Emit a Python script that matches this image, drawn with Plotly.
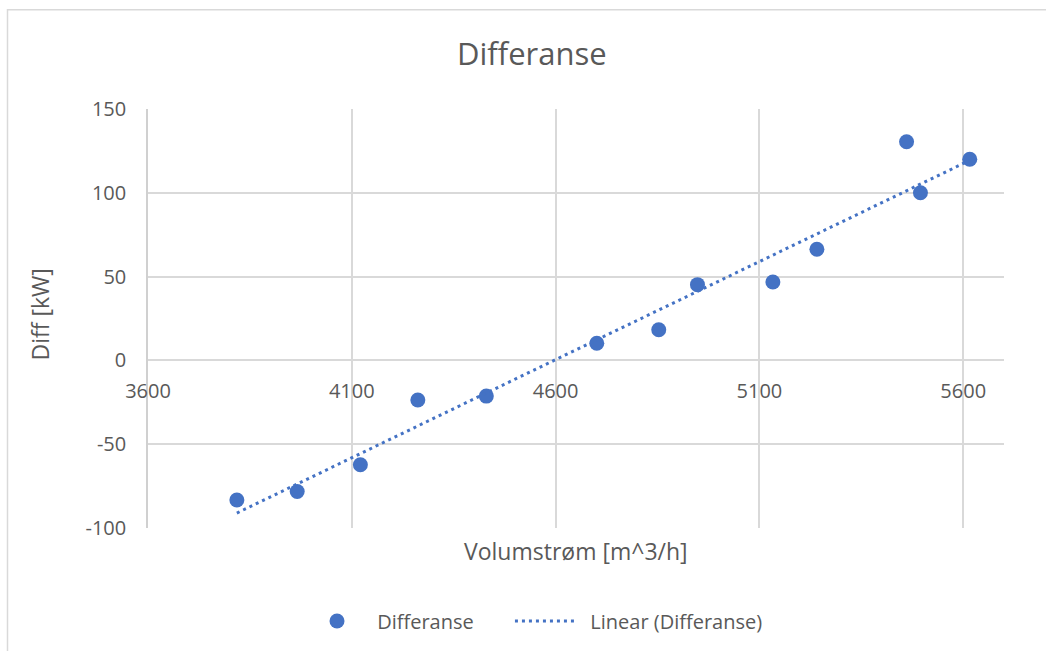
import numpy as np
import plotly.graph_objects as go

# Measured volume flow [m^3/h] and power difference [kW]
volumstrom = [3818, 3966, 4121, 4262, 4430, 4701, 4853, 4948, 5133, 5241, 5461, 5495, 5616]
differanse = [-83.3, -78.2, -62.3, -23.6, -21.3, 10.2, 18.3, 45.2, 46.8, 66.3, 130.5, 100.0, 120.0]

x_ticks = [3600, 4100, 4600, 5100, 5600]
y_ticks = [-100, -50, 0, 50, 100, 150]
y_tick_text = ["-100", "-50", "0", "50", "100", "150"]

BLUE = "#4472C4"
TEXT = "#595959"
GRID = "#D9D9D9"
FONT = "Open Sans"
NBSP = "\u00a0"

# Least-squares linear trend over the data range
slope, intercept = np.polyfit(volumstrom, differanse, 1)
trend_x = [min(volumstrom), max(volumstrom)]
trend_y = [slope * v + intercept for v in trend_x]

fig = go.Figure()
fig.add_trace(go.Scatter(
    x=volumstrom, y=differanse, mode="markers", name=NBSP + "Differanse" + NBSP * 6,
    marker=dict(color=BLUE, size=15, line=dict(width=0)),
))
fig.add_trace(go.Scatter(
    x=trend_x, y=trend_y, mode="lines", name=NBSP * 2 + "Linear (Differanse)",
    line=dict(color=BLUE, width=3, dash="3px,4px"),
))

W, H = 1046, 651
L, R, T, B = 148, 42, 109, 122
pw, ph = W - L - R, H - T - B


def px_x(p):
    return (p - L) / pw


def px_y(p):
    return (H - B - p) / ph


y_min, y_max = -100, 150

fig.update_layout(
    width=W, height=H,
    margin=dict(l=L, r=R, t=T, b=B),
    paper_bgcolor="white", plot_bgcolor="white",
    font=dict(family=FONT, color=TEXT, size=20),
    showlegend=True,
    legend=dict(
        orientation="h", x=px_x(302), xanchor="left", y=px_y(621), yanchor="middle",
        font=dict(size=20, color=TEXT), itemwidth=60,
    ),
    xaxis=dict(
        range=[3600, 5700], tickvals=x_ticks, ticktext=[str(v) for v in x_ticks],
        showgrid=True, gridcolor=GRID, gridwidth=1.5, zeroline=False,
        showline=False, anchor="free", position=(0 - y_min) / (y_max - y_min),
        ticks="", ticklabelstandoff=17, tickfont=dict(size=20, color=TEXT),
    ),
    yaxis=dict(
        range=[y_min, y_max], tickvals=y_ticks, ticktext=y_tick_text,
        showgrid=True, gridcolor=GRID, gridwidth=1.5, zeroline=False,
        showline=True, linecolor="#D0D0D0", linewidth=1.5,
        ticks="", ticklabelstandoff=16, tickfont=dict(size=20, color=TEXT),
    ),
    annotations=[
        dict(text="Differanse", xref="paper", yref="paper",
             x=px_x(532), y=px_y(53), xanchor="center", yanchor="middle",
             showarrow=False, font=dict(size=31, color=TEXT, family=FONT)),
        dict(text="Volumstrøm [m^3/h]", xref="paper", yref="paper",
             x=px_x(576), y=px_y(552), xanchor="center", yanchor="middle",
             showarrow=False, font=dict(size=23, color=TEXT, family=FONT)),
        dict(text="Diff [kW]", xref="paper", yref="paper", textangle=-90,
             x=px_x(40), y=px_y(315), xanchor="center", yanchor="middle",
             showarrow=False, font=dict(size=23, color=TEXT, family=FONT)),
    ],
    shapes=[
        dict(type="rect", xref="paper", yref="paper",
             x0=px_x(7.5), y0=px_y(9.5), x1=px_x(1060), y1=px_y(670),
             line=dict(color=GRID, width=1.5), fillcolor="rgba(0,0,0,0)", layer="below"),
    ],
)

fig.write_html("out.html")
